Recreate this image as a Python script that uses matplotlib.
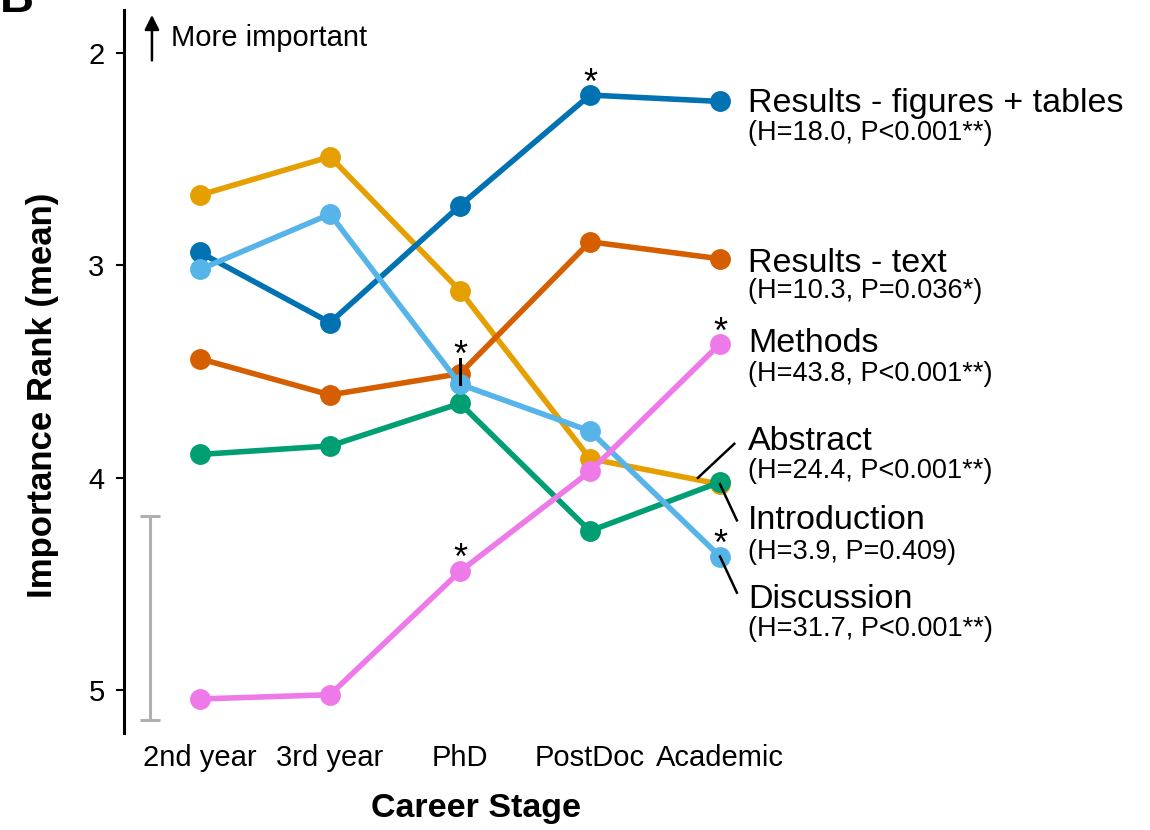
import matplotlib.pyplot as plt

plt.rcParams["font.family"] = ["Liberation Sans", "DejaVu Sans"]

stages = ["2nd year", "3rd year", "PhD", "PostDoc", "Academic"]

results_fig = [2.94, 3.27, 2.72, 2.20, 2.23]
results_text = [3.44, 3.61, 3.51, 2.89, 2.97]
methods = [5.04, 5.02, 4.44, 3.97, 3.37]
abstract = [2.67, 2.49, 3.12, 3.91, 4.03]
introduction = [3.89, 3.85, 3.65, 4.25, 4.02]
discussion = [3.02, 2.76, 3.56, 3.78, 4.37]

names = ["Abstract", "Results - text", "Results - figures + tables",
         "Introduction", "Discussion", "Methods"]
stats = ["(H=24.4, P<0.001**)", "(H=10.3, P=0.036*)", "(H=18.0, P<0.001**)",
         "(H=3.9, P=0.409)", "(H=31.7, P<0.001**)", "(H=43.8, P<0.001**)"]
series = [abstract, results_text, results_fig, introduction, discussion, methods]
colors = ["#E69F00", "#D55E00", "#0072B2", "#009E73", "#56B4E9", "#EE7AE9"]

# label y positions (data units) for name / stats line
label_y = [(3.83, 3.97), (2.99, 3.12), (2.24, 2.38), (4.20, 4.35), (4.57, 4.71), (3.37, 3.51)]

err_range = (4.18, 5.14)

fig = plt.figure(figsize=(11.5, 8.3), dpi=100)
ax = fig.add_axes([124 / 1150, 1 - 733 / 830, 635 / 1150, 723 / 830])

x = list(range(len(stages)))
for vals, c in zip(series, colors):
    ax.plot(x, vals, "-o", color=c, lw=4, ms=14, solid_capstyle="round")

for (ny, sy), name, st in zip(label_y, names, stats):
    ax.text(4.215, ny, name, fontsize=24.5, va="center", ha="left", clip_on=False)
    ax.text(4.215, sy, st, fontsize=19.5, va="center", ha="left", clip_on=False)

# leader lines
ax.plot([3.83, 4.11], [4.00, 3.84], color="black", lw=1.8, clip_on=False)
ax.plot([4.0, 4.13], [4.03, 4.20], color="black", lw=1.8, clip_on=False)
ax.plot([4.0, 4.13], [4.37, 4.54], color="black", lw=1.8, clip_on=False)
ax.plot([2, 2], [3.44, 3.56], color="black", lw=2.2, zorder=5)

# significance stars
for sx, sy in [(3, 2.15), (2, 3.43), (2, 4.385), (4, 3.32), (4, 4.32)]:
    ax.text(sx, sy, "*", fontsize=26, ha="center", va="center", zorder=6)

# grey error bar
mid = sum(err_range) / 2
ax.errorbar([-0.385], [mid], yerr=[[mid - err_range[0]], [err_range[1] - mid]],
            color="#B0B0B0", lw=2.2, capsize=7, capthick=2.2, fmt="none", clip_on=False)

ax.set_xlim(-0.585, 4.3)
ax.set_ylim(5.20, 1.80)
ax.set_xticks(x)
ax.set_xticklabels(stages, fontsize=21)
ax.tick_params(axis="x", length=0, pad=8)
ax.set_yticks([2, 3, 4, 5])
ax.tick_params(axis="y", labelsize=21, width=1.5, length=6, pad=8)
for s in ["top", "right", "bottom"]:
    ax.spines[s].set_visible(False)
ax.spines["left"].set_linewidth(2.2)

ax.set_xlabel("Career Stage", fontsize=24.5, fontweight="bold", va="center")
ax.xaxis.set_label_coords(0.554, -0.104)
ax.set_ylabel("Importance Rank (mean)", fontsize=25, fontweight="bold", va="center")
ax.yaxis.set_label_coords(-0.129, 0.4675)

ax.annotate("", xy=(-0.37, 1.81), xytext=(-0.37, 2.05),
            arrowprops=dict(arrowstyle="-|>", color="black", lw=1.8, mutation_scale=22),
            annotation_clip=False)
ax.text(-0.22, 1.93, "More important", fontsize=21, va="center", ha="left")

fig.text(0.0, 1.0, "B", fontsize=34, fontweight="bold", va="center", ha="left")

fig.savefig("out.png", dpi=100)
